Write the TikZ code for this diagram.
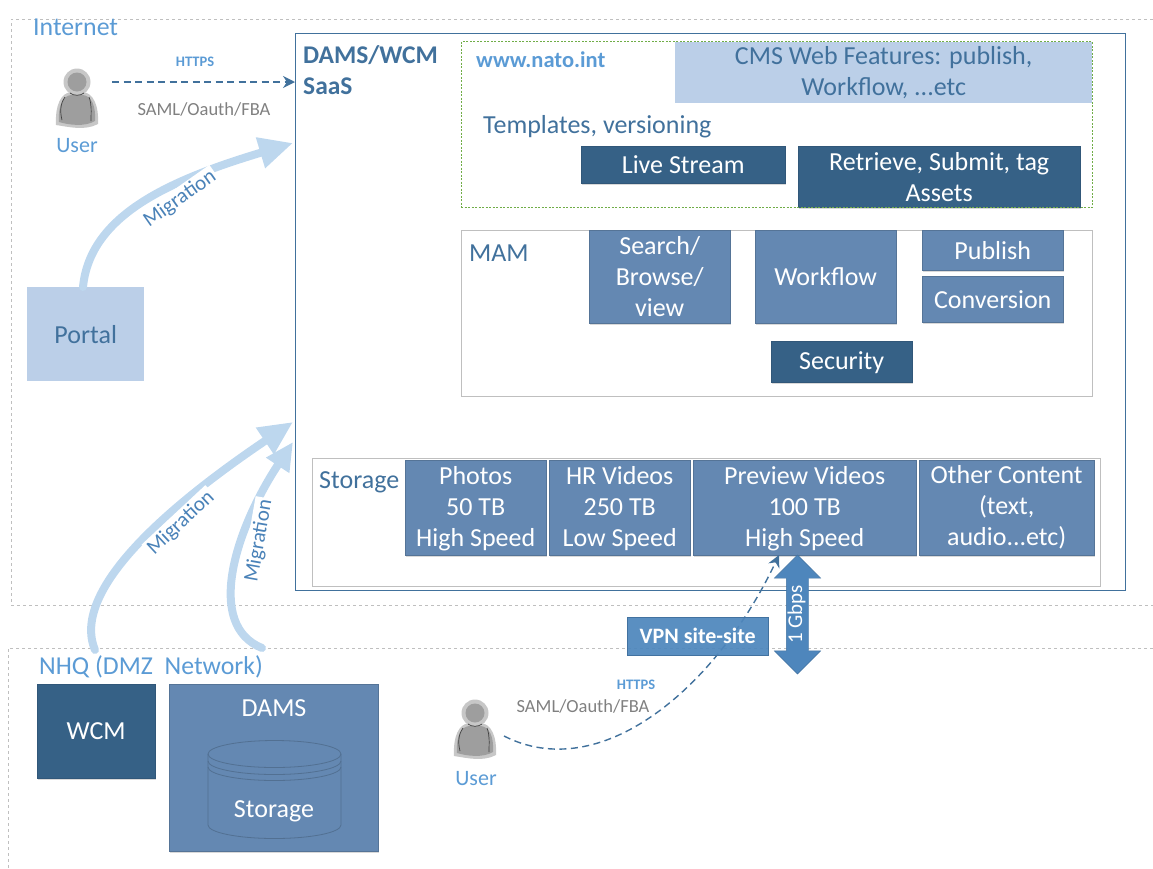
\documentclass[tikz,border=0pt]{standalone}
\usepackage{fontspec}
\setmainfont{Carlito}
\usetikzlibrary{arrows.meta,shadows,shapes.arrows}

\definecolor{midblue}{HTML}{6488B2}
\definecolor{darkblue}{HTML}{366186}
\definecolor{paleblue}{HTML}{BBCFE8}
\definecolor{migblue}{HTML}{BDD7EE}
\definecolor{vpnblue}{HTML}{4E86BC}
\definecolor{labelblue}{HTML}{5B9BD5}
\definecolor{textblue}{HTML}{41719C}
\definecolor{migtext}{HTML}{4A82B8}
\definecolor{framegrey}{HTML}{BFBFBF}
\definecolor{webgreen}{HTML}{70AD47}

\newcommand{\fs}[1]{\fontsize{#1}{31}\selectfont}

\tikzset{
	mid box/.style={draw=midblue!85!black,fill=midblue,text=white,anchor=north west,inner sep=0pt,align=center,font=\fs{26},drop shadow={shadow xshift=1pt,shadow yshift=-2pt,opacity=0.3}},
	dark box/.style={mid box,draw=darkblue!90!black,fill=darkblue},
	zone/.style={draw=framegrey,dashed,line width=0.5pt},
	frame/.style={draw=framegrey,line width=0.8pt},
	zone label/.style={text=labelblue,font=\fs{25.8},inner sep=0pt},
	blue label/.style={text=textblue,font=\fs{26},inner sep=0pt},
	grey label/.style={text=black!50,font=\fs{18.5},inner sep=0pt},
	https label/.style={text=labelblue,font=\fs{14.5}\bfseries,inner sep=0pt},
	link/.style={draw=textblue,line width=1.4pt,dash pattern=on 7pt off 4.5pt,-{Stealth[length=12pt,width=12pt]}},
	migration/.style={draw=migblue,line width=8pt,line cap=round,-{Triangle[length=34pt,width=30pt]}},
	migration label/.style={fill=white,text=migtext,font=\fs{21},inner sep=2pt},
	cylinder line/.style={draw=midblue!82!black,line width=0.8pt},
	user/.pic={
		\fill[black!22] (0,-18) circle (13.5);
		\fill[black!22] (-21,25) .. controls (-22,5) and (-16,-7) .. (-6,-8) -- (6,-8) .. controls (16,-7) and (22,5) .. (21,24) .. controls (8,31) and (-8,27) .. (-21,25) -- cycle;
		\fill[black!38] (0,-18) circle (9.5);
		\fill[black!38] (-18,22) .. controls (-19,5) and (-14,-4) .. (-6,-5) -- (6,-5) .. controls (14,-4) and (19,5) .. (18,21) .. controls (8,27) and (-8,25) .. (-18,22) -- cycle;
		\draw[black!75,line width=0.7pt] (-7,-7) .. controls (-3,-4) and (3,-4) .. (7,-7);
		\draw[black!75,line width=0.7pt] (-12,-3) .. controls (-17,4) and (-17,12) .. (-15,20);
		\draw[black!75,line width=0.7pt] (12,-3) .. controls (15,5) and (14,12) .. (14,21);
	}
}

\begin{document}
\begin{tikzpicture}[x=1pt,y=-1pt]
	\useasboundingbox (0,0) rectangle (1153,868);

	%zones
	\draw[zone] (1153,19) -- (11,19) -- (11,605) -- (1153,605);
	\draw[zone] (1153,648) -- (8,648) -- (8,868);
	\node[zone label,anchor=west] (Internet) at (33,27) {Internet};
	\node[zone label,anchor=west] (NHQ) at (39,667) {NHQ (DMZ\ \ Network)};

	%saas side
	\node[draw=textblue,line width=1pt,anchor=north west,minimum width=830pt,minimum height=557pt,inner sep=0pt] (SaaS) at (294.5,33) {};
	\node[anchor=north west,text=textblue,font=\fs{25.5}\bfseries,align=left,inner sep=0pt] (SaaSLabel) at (303,45) {DAMS/WCM\\SaaS};

	%www.nato.int
	\node[fill=paleblue,text=textblue,anchor=north west,inner sep=0pt,align=center,font=\fs{26},minimum width=417pt,minimum height=61pt] (CMS) at (675,42) {CMS Web Features: publish,\\Workflow, ...etc};
	\node[anchor=west,text=labelblue,font=\fs{22.5}\bfseries,inner sep=0pt] (Nato) at (476,60) {www.nato.int};
	\node[blue label,anchor=west] (Templates) at (483,126.5) {Templates, versioning};
	\node[dark box,minimum width=204pt,minimum height=37pt] (Live) at (581,146) {Live Stream};
	\node[dark box,minimum width=282pt,minimum height=61pt] (Retrieve) at (798,146) {Retrieve, Submit, tag\\Assets};
	\node[draw=webgreen,dash pattern=on 2pt off 1.5pt,line width=1.1pt,anchor=north west,minimum width=631pt,minimum height=166pt,inner sep=0pt] (Web) at (460.5,41) {};

	%MAM
	\node[frame,anchor=north west,minimum width=631pt,minimum height=166pt,inner sep=0pt] (MAMFrame) at (460.5,230) {};
	\node[blue label,anchor=west] (MAM) at (469,253) {MAM};
	\node[mid box,minimum width=141pt,minimum height=93pt] (Search) at (589,230) {Search/\\Browse/\\view};
	\node[mid box,minimum width=141pt,minimum height=93pt] (Workflow) at (755,230) {Workflow};
	\node[mid box,minimum width=141pt,minimum height=40pt] (Publish) at (922,230) {Publish};
	\node[mid box,minimum width=141pt,minimum height=46pt] (Conversion) at (922,276) {Conversion};
	\node[dark box,text depth=3pt,minimum width=141pt,minimum height=41pt] (Security) at (771,341) {Security};

	%storage
	\node[frame,anchor=north west,minimum width=788pt,minimum height=128pt,inner sep=0pt] (StorageFrame) at (311.5,458) {};
	\node[blue label,anchor=west] (StorageLabel) at (319,482.5) {Storage};
	\node[mid box,text depth=3pt,minimum width=141pt,minimum height=95pt] (Photos) at (405,460) {Photos\\50 TB\\High Speed};
	\node[mid box,text depth=3pt,minimum width=141pt,minimum height=95pt] (HR) at (549,460) {HR Videos\\250 TB\\Low Speed};
	\node[mid box,text depth=3pt,minimum width=223pt,minimum height=95pt] (Preview) at (693,460) {Preview Videos\\100 TB\\High Speed};
	\node[mid box,minimum width=175pt,minimum height=95pt] (Other) at (919,460) {Other Content\\(text,\\audio...etc)};

	%internet side
	\node[fill=paleblue,text=textblue,anchor=north west,inner sep=0pt,font=\fs{26},minimum width=117pt,minimum height=94pt] (Portal) at (27,287) {Portal};
	\pic at (77,100) {user};
	\node[text=labelblue,font=\fs{22},inner sep=0pt] (UserA) at (77,146) {User};
	\coordinate (UserAOut) at (112,82);
	\coordinate (SaaSInA) at (295,82);
	\node[https label] (HttpsA) at (195,62) {HTTPS};
	\node[grey label] (SamlA) at (204,109) {SAML/Oauth/FBA};

	%nhq side
	\node[dark box,minimum width=118pt,minimum height=94pt] (WCM) at (37,684) {WCM};
	\node[mid box,minimum width=209pt,minimum height=167pt] (DAMS) at (169,684) {};
	\node[text=white,font=\fs{26},inner sep=0pt] (DAMSLabel) at (274,708) {DAMS};
	\draw[cylinder line] (274.5,754) ellipse[x radius=66.5,y radius=13.5];
	\draw[cylinder line] (208,761) arc[start angle=180,end angle=0,x radius=66.5,y radius=13.5];
	\draw[cylinder line] (208,767) arc[start angle=180,end angle=0,x radius=66.5,y radius=13.5];
	\draw[cylinder line] (208,754) -- (208,825) arc[start angle=180,end angle=0,x radius=66.5,y radius=13.5] -- (341,754);
	\node[text=white,font=\fs{26},inner sep=0pt] (StorageDb) at (274,811.5) {Storage};
	\pic at (475,731) {user};
	\node[text=labelblue,font=\fs{22},inner sep=0pt] (UserB) at (476,779) {User};
	\coordinate (UserBOut) at (504,736);
	\coordinate (PreviewIn) at (779,555);
	\node[https label] (HttpsB) at (636,685) {HTTPS};
	\node[grey label] (SamlB) at (583,706) {SAML/Oauth/FBA};

	%vpn
	\draw[link] (UserBOut) .. controls (600,785) and (715,690) .. (PreviewIn);
	\node[fill=vpnblue,draw=vpnblue!85!black,text=white,anchor=north west,inner sep=0pt,font=\fs{22}\bfseries,minimum width=141pt,minimum height=38pt,fill opacity=0.93,text opacity=1] (VPN) at (627,617) {VPN site-site};
	\node[double arrow,rotate=90,fill=vpnblue,draw=vpnblue!85!black,text=white,font=\fs{21},text height=13pt,text depth=4pt,inner xsep=0pt,inner ysep=2.5pt,minimum width=46pt,minimum height=119pt,double arrow head extend=12pt] (Gbps) at (797.5,614.5) {1 Gbps};

	%edges
	\draw[link] (UserAOut) -- (SaaSInA);
	\coordinate (SaaSInB) at (293,143);
	\coordinate (SaaSInC) at (293,422);
	\coordinate (SaaSInD) at (293,442);
	\coordinate (DmzOutA) at (95,650);
	\coordinate (DmzOutB) at (262,648);
	\draw[migration] (Portal.north -| 83,287) .. controls (90,215) and (170,180) .. (SaaSInB);
	\draw[migration] (DmzOutA) .. controls (70,590) and (170,505) .. (SaaSInC);
	\draw[migration,-{Triangle[length=28pt,width=26pt]}] (DmzOutB) .. controls (205,625) and (235,530) .. (SaaSInD);
	\node[migration label,rotate=35] (MigA) at (180,199) {Migration};
	\node[migration label,rotate=43] (MigB) at (181,523) {Migration};
	\node[migration label,rotate=80] (MigC) at (259,541) {Migration};
\end{tikzpicture}
\end{document}
